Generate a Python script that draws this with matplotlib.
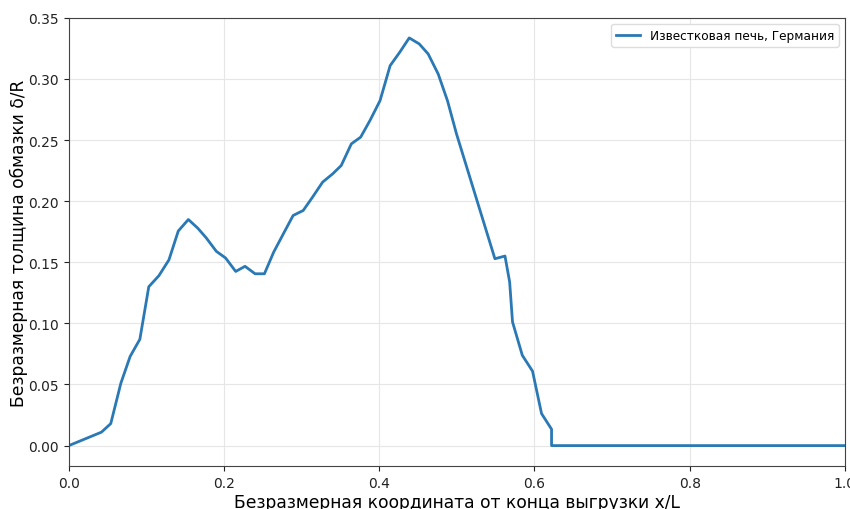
import matplotlib
matplotlib.use("Agg")
import matplotlib.pyplot as plt

# x/L and delta/R
x_l = [0.0, 0.042, 0.054, 0.067, 0.079, 0.0915, 0.103, 0.116, 0.129, 0.141,
       0.154, 0.166, 0.177, 0.190, 0.202, 0.215, 0.227, 0.240, 0.252, 0.264,
       0.277, 0.289, 0.302, 0.314, 0.327, 0.340, 0.351, 0.364, 0.376, 0.388,
       0.401, 0.414, 0.4265, 0.4386, 0.4515, 0.463, 0.476, 0.488, 0.4995,
       0.549, 0.562, 0.568, 0.5717, 0.5843, 0.5975, 0.6091, 0.622, 0.622, 1.0]
delta_r = [0.0, 0.011, 0.018, 0.051, 0.073, 0.087, 0.130, 0.139, 0.152, 0.1756,
           0.185, 0.178, 0.170, 0.159, 0.1535, 0.1425, 0.1467, 0.1406, 0.1406, 0.1584,
           0.174, 0.1883, 0.1924, 0.2033, 0.2156, 0.2224, 0.2292, 0.2469, 0.2524, 0.266,
           0.2823, 0.3109, 0.322, 0.3336, 0.3287, 0.3205, 0.304, 0.282, 0.2551,
           0.1529, 0.1551, 0.1339, 0.1012, 0.0739, 0.0609, 0.0262, 0.0134, 0.0, 0.0]

series_label = "Известковая печь, Германия"
x_title = "Безразмерная координата от конца выгрузки x/L"
y_title = "Безразмерная толщина обмазки δ/R"

fig = plt.figure(figsize=(8.5, 5.1), dpi=100)
ax = fig.add_axes([0.081, 0.0843, 0.913, 0.8787])

ax.plot(x_l, delta_r, color="#2a79b5", lw=2, label=series_label)

ax.set_xlim(0, 1.0)
ax.set_ylim(-0.0167, 0.35)
ax.set_xticks([0.0, 0.2, 0.4, 0.6, 0.8, 1.0])
ax.set_yticks([0.0, 0.05, 0.10, 0.15, 0.20, 0.25, 0.30, 0.35])
ax.yaxis.set_major_formatter(matplotlib.ticker.FormatStrFormatter("%.2f"))
ax.xaxis.set_major_formatter(matplotlib.ticker.FormatStrFormatter("%.1f"))

ax.grid(True, color="#e6e6e6", lw=0.8)
ax.set_axisbelow(True)
for s in ax.spines.values():
    s.set_color("#444444")
ax.tick_params(labelsize=10, colors="#222222", length=3.5)

ax.set_xlabel(x_title, fontsize=12.3, labelpad=2)
ax.set_ylabel(y_title, fontsize=12.3, labelpad=0)
ax.legend(loc="upper right", fontsize=8.7, framealpha=1, edgecolor="#dddddd")

fig.savefig("out.png", dpi=100)
